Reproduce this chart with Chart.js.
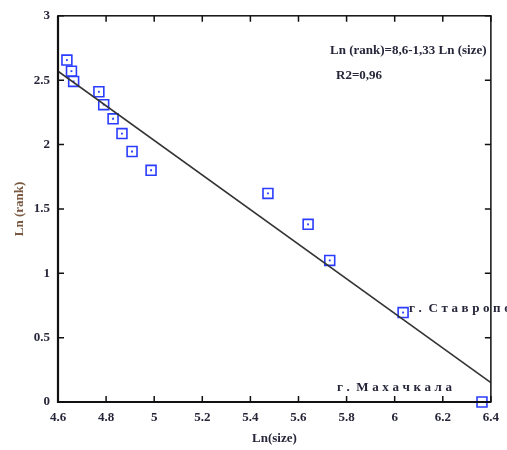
<!DOCTYPE html>
<html>
<head>
<meta charset="utf-8">
<script src="https://cdn.jsdelivr.net/npm/chart.js@4/dist/chart.umd.min.js"></script>
<style>
  html, body { margin: 0; padding: 0; background: #fff; }
  #wrap { width: 507px; height: 450px; }
</style>
</head>
<body>
<div id="wrap"><canvas id="rankChart" width="507" height="450"></canvas></div>
<script>
// city data
const lnSize = [4.637, 4.656, 4.665, 4.77, 4.79, 4.829, 4.866, 4.908, 4.987, 5.473, 5.64, 5.73, 6.035, 6.363];
const lnRank = [2.656, 2.57, 2.49, 2.41, 2.31, 2.20, 2.085, 1.946, 1.80, 1.62, 1.38, 1.10, 0.695, 0.0];

// regression line as drawn
const fitX = [4.6, 6.4];
const fitY = [2.57, 0.15];

const xTicks = [4.6, 4.8, 5, 5.2, 5.4, 5.6, 5.8, 6, 6.2, 6.4];
const yTicks = [0, 0.5, 1, 1.5, 2, 2.5, 3];

const eqText = "Ln (rank)=8,6-1,33 Ln (size)";
const r2Text = "R2=0,96";
const cityLabels = ["г. Ставрополь", "г. Махачкала"];

const serif = '"Liberation Serif", "DejaVu Serif", serif';
const blue = "#2a3cff";
const ink = "#26263a";

const points = lnSize.map((x, i) => ({ x: x, y: lnRank[i] }));
const fitLine = fitX.map((x, i) => ({ x: x, y: fitY[i] }));

// box frame with inward ticks on all four sides
const framePlugin = {
    id: "frame",
    afterDatasetsDraw(chart) {
        const { ctx, chartArea: a, scales } = chart;
        ctx.save();
        ctx.strokeStyle = "#111";
        ctx.lineWidth = 1.5;
        ctx.strokeRect(a.left, a.top, a.right - a.left, a.bottom - a.top);
        ctx.lineWidth = 2.2;
        ctx.beginPath();
        ctx.moveTo(a.left, a.top);
        ctx.lineTo(a.left, a.bottom);
        ctx.lineTo(a.right, a.bottom);
        ctx.stroke();

        const len = 6;
        ctx.lineWidth = 1.5;
        ctx.beginPath();
        xTicks.forEach(v => {
            const px = scales.x.getPixelForValue(v);
            ctx.moveTo(px, a.bottom); ctx.lineTo(px, a.bottom - len);
            ctx.moveTo(px, a.top); ctx.lineTo(px, a.top + len);
        });
        yTicks.forEach(v => {
            const py = scales.y.getPixelForValue(v);
            ctx.moveTo(a.left, py); ctx.lineTo(a.left + len, py);
            ctx.moveTo(a.right, py); ctx.lineTo(a.right - len, py);
        });
        ctx.stroke();
        ctx.restore();
    }
};

function spacedText(ctx, text, x, y, spacing) {
    let cx = x;
    for (const ch of text) {
        if (ch === " ") { cx += 3; continue; }
        ctx.fillText(ch, cx, y);
        cx += ctx.measureText(ch).width + spacing;
    }
}

// equation and city names
const notesPlugin = {
    id: "notes",
    afterDraw(chart) {
        const { ctx, scales } = chart;
        const X = v => scales.x.getPixelForValue(v);
        const Y = v => scales.y.getPixelForValue(v);
        ctx.save();
        ctx.fillStyle = ink;
        ctx.textBaseline = "middle";
        ctx.textAlign = "left";
        ctx.font = "bold 13px " + serif;
        ctx.fillText(eqText, X(5.731), Y(2.726));
        ctx.fillText(r2Text, X(5.756), Y(2.533));
        spacedText(ctx, cityLabels[0], X(6.06), Y(0.725), 3.6);
        spacedText(ctx, cityLabels[1], X(5.76), Y(0.11), 3.6);
        ctx.restore();
    }
};

new Chart(document.getElementById("rankChart"), {
    type: "scatter",
    data: {
        datasets: [
            {
                type: "line",
                label: "fit",
                data: fitLine,
                borderColor: "#333",
                borderWidth: 1.6,
                pointRadius: 0,
                fill: false
            },
            {
                label: "cities",
                data: points,
                pointStyle: "rect",
                pointRadius: 7,
                borderColor: blue,
                borderWidth: 1.6,
                backgroundColor: "rgba(0,0,0,0)",
                clip: false
            },
            {
                label: "centres",
                data: points,
                pointStyle: "rect",
                pointRadius: 1.3,
                borderWidth: 0,
                backgroundColor: blue,
                clip: false
            }
        ]
    },
    options: {
        responsive: false,
        animation: false,
        layout: { padding: { top: 14, right: 16, left: 0, bottom: 0 } },
        plugins: { legend: { display: false }, tooltip: { enabled: false } },
        scales: {
            x: {
                type: "linear",
                min: 4.6,
                max: 6.4,
                afterBuildTicks: s => { s.ticks = xTicks.map(v => ({ value: v })); },
                afterFit: s => { s.height = 48; },
                grid: { display: false, drawTicks: false },
                border: { display: false },
                ticks: {
                    padding: 8,
                    color: ink,
                    font: { family: serif, size: 13, weight: "bold" },
                    callback: v => String(v)
                },
                title: {
                    display: true,
                    text: "Ln(size)",
                    color: ink,
                    font: { family: serif, size: 13, weight: "bold" },
                    padding: { top: 4, bottom: 4 }
                }
            },
            y: {
                type: "linear",
                min: 0,
                max: 3,
                afterBuildTicks: s => { s.ticks = yTicks.map(v => ({ value: v })); },
                afterFit: s => { s.width = 58; },
                grid: { display: false, drawTicks: false },
                border: { display: false },
                ticks: {
                    padding: 8,
                    color: ink,
                    font: { family: serif, size: 13, weight: "bold" },
                    callback: v => String(v)
                },
                title: {
                    display: true,
                    text: "Ln (rank)",
                    color: "#7a5a42",
                    font: { family: serif, size: 13, weight: "bold" },
                    padding: { top: 12, bottom: 4 }
                }
            }
        }
    },
    plugins: [framePlugin, notesPlugin]
});
</script>
</body>
</html>
